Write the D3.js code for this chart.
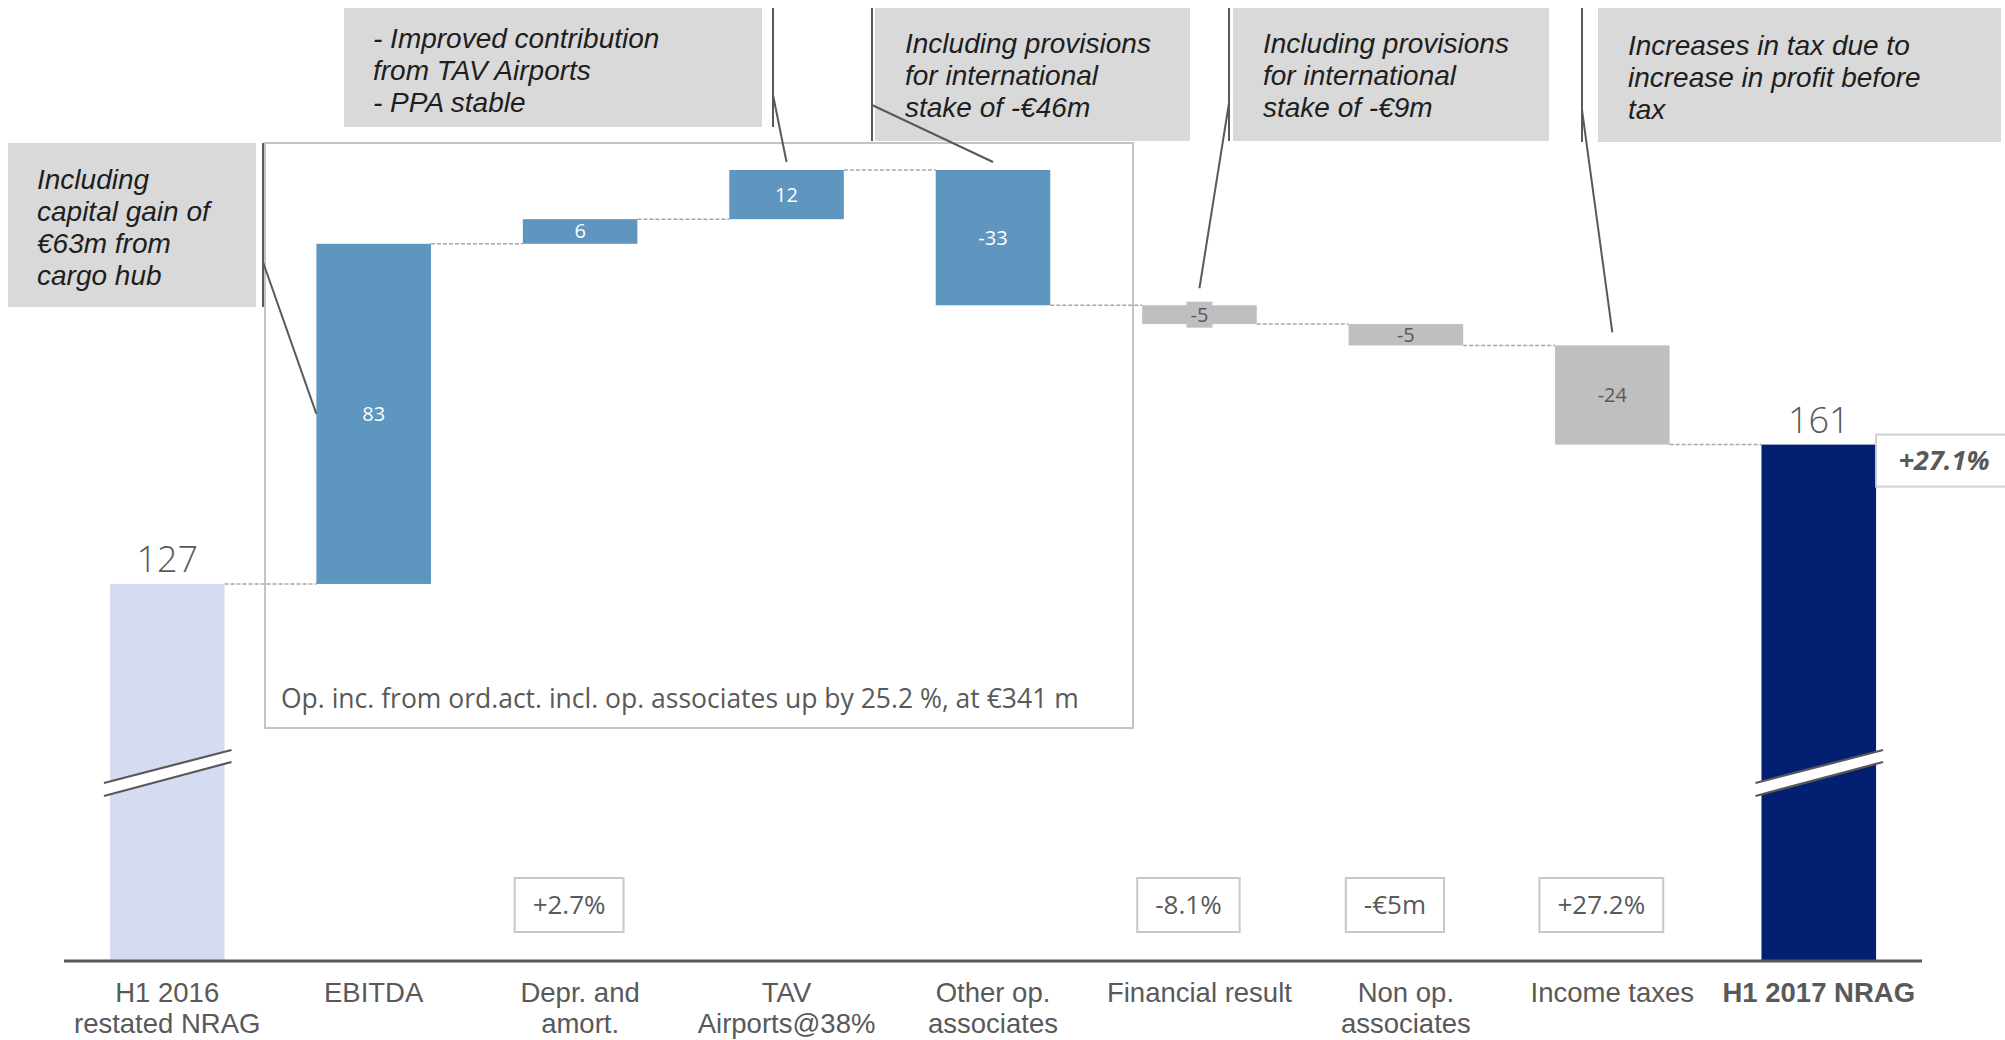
<!DOCTYPE html>
<html>
<head>
<meta charset="utf-8">
<script src="https://cdn.jsdelivr.net/npm/d3@7/dist/d3.min.js"></script>
<style>
  html, body { margin: 0; padding: 0; background: #ffffff; }
  svg { display: block; }
  text { font-family: "Open Sans", "Noto Sans", sans-serif; }
  text.note, text.cat { font-family: "Liberation Sans", Arial, sans-serif; }
</style>
</head>
<body>
<svg id="chart" width="2005" height="1040"></svg>
<script>
// ---------------- data ----------------
const categories = [
  "H1 2016|restated NRAG", "EBITDA", "Depr. and|amort.", "TAV|Airports@38%",
  "Other op.|associates", "Financial result", "Non op.|associates", "Income taxes", "H1 2017 NRAG"
];
const values = [127, 83, 6, 12, -33, -4.6, -5.2, -24.2, 161];
const kinds  = ["start", "op", "op", "op", "op", "nonop", "nonop", "nonop", "end"];
const changeLabels = [null, null, "+2.7%", null, null, "-8.1%", "-€5m", "+27.2%", null];
const totalChange = "+27.1%";
const boxNote = "Op. inc. from ord.act. incl. op. associates up by 25.2 %, at €341 m";
const noteTexts = [
  ["Including", "capital gain of", "€63m from", "cargo hub"],
  ["- Improved contribution", "from TAV Airports", "- PPA stable"],
  ["Including provisions", "for international", "stake of -€46m"],
  ["Including provisions", "for international", "stake of -€9m"],
  ["Increases in tax due to", "increase in profit before", "tax"]
];
const noteTargets = [1, 3, 4, 5, 7];

// ---------------- layout / style ----------------
const W = 2005, H = 1040;
const axisY = 961;
const colors = { start: "#d5dbf0", op: "#5e96c0", nonop: "#bfbfbf", end: "#031f71" };
const textGrey = "#595959";

const svg = d3.select("#chart");

const x = d3.scaleBand().domain(categories).range([64, 1922])
  .paddingInner(0.445).paddingOuter(0.2225);
const y = d3.scaleLinear().domain([35, 228]).range([axisY, 170]);

// compute waterfall
let run = 0;
const bars = categories.map((c, i) => {
  const v = values[i], k = kinds[i];
  let y0, y1;
  if (k === "start" || k === "end") { y0 = 35; y1 = v; run = v; }
  else { y0 = run; y1 = run + v; run = y1; }
  return { c, i, v, k, lo: Math.min(y0, y1), hi: Math.max(y0, y1), end: y1 };
});

// outline box for operating items
const ob = { x: 265, y: 143, w: 868, h: 585 };
svg.append("rect").attr("x", ob.x).attr("y", ob.y).attr("width", ob.w).attr("height", ob.h)
  .attr("fill", "none").attr("stroke", "#c4c4c4").attr("stroke-width", 2);
svg.append("text").attr("x", ob.x + 16).attr("y", 708)
  .attr("font-size", 26.5).attr("fill", textGrey).text(boxNote);

// connectors
for (let i = 0; i < bars.length - 1; i++) {
  const b = bars[i];
  svg.append("line")
    .attr("x1", x(b.c) + x.bandwidth()).attr("x2", x(bars[i + 1].c))
    .attr("y1", y(b.end)).attr("y2", y(b.end))
    .attr("stroke", "#a6a6a6").attr("stroke-width", 1.5).attr("stroke-dasharray", "4,2");
}

// bars
svg.selectAll("rect.bar").data(bars).join("rect").attr("class", "bar")
  .attr("x", d => x(d.c)).attr("width", x.bandwidth())
  .attr("y", d => y(d.hi)).attr("height", d => y(d.lo) - y(d.hi))
  .attr("fill", d => colors[d.k]);

// axis break marks on total bars
bars.filter(d => d.k === "start" || d.k === "end").forEach(d => {
  const xl = x(d.c) - 6, xr = x(d.c) + x.bandwidth() + 7;
  svg.append("path")
    .attr("d", `M${xl},783 L${xr},750 L${xr},762 L${xl},796 Z`)
    .attr("fill", "#ffffff");
  [[783, 750], [796, 762]].forEach(([a, b]) => {
    svg.append("line").attr("x1", xl).attr("y1", a).attr("x2", xr).attr("y2", b)
      .attr("stroke", textGrey).attr("stroke-width", 2.2);
  });
});

// value labels
bars.forEach(d => {
  const cx = x(d.c) + x.bandwidth() / 2;
  if (d.k === "start" || d.k === "end") {
    svg.append("text").attr("x", cx).attr("y", y(d.hi) - 12)
      .attr("text-anchor", "middle").attr("font-size", 36).attr("font-weight", 300)
      .attr("fill", textGrey).text(String(d.v));
  } else {
    const cy = (y(d.hi) + y(d.lo)) / 2;
    const lbl = String(Math.round(d.v));
    const h = y(d.lo) - y(d.hi);
    if (d.k === "nonop" && h < 20) {
      svg.append("rect").attr("x", cx - 13).attr("y", cy - 13).attr("width", 26).attr("height", 26)
        .attr("fill", colors.nonop);
    }
    svg.append("text").attr("x", cx).attr("y", cy).attr("dy", "0.35em")
      .attr("text-anchor", "middle").attr("font-size", 20)
      .attr("fill", d.k === "op" ? "#ffffff" : textGrey).text(lbl);
  }
});

// axis line
svg.append("line").attr("x1", 64).attr("x2", 1922).attr("y1", axisY).attr("y2", axisY)
  .attr("stroke", textGrey).attr("stroke-width", 3);

// category labels
categories.forEach((c, i) => {
  const cx = x(c) + x.bandwidth() / 2;
  c.split("|").forEach((l, j) => svg.append("text").attr("class", "cat")
    .attr("x", cx).attr("y", 1002 + j * 31)
    .attr("text-anchor", "middle").attr("font-size", 27.5).attr("fill", textGrey)
    .attr("font-weight", kinds[i] === "end" ? 700 : 400).text(l));
});

// change boxes under bars
changeLabels.forEach((lbl, i) => {
  if (!lbl) return;
  const cx = x(categories[i]) + x.bandwidth() / 2 - 11;
  const g = svg.append("g");
  const t = g.append("text").attr("x", cx).attr("y", 905).attr("dy", "0.35em")
    .attr("text-anchor", "middle").attr("font-size", 26).attr("fill", textGrey).text(lbl);
  const bw = t.node().getComputedTextLength() + 36;
  g.insert("rect", "text").attr("x", cx - bw / 2).attr("y", 878).attr("width", bw).attr("height", 54)
    .attr("fill", "#ffffff").attr("stroke", "#c8c8c8").attr("stroke-width", 2);
});

// total change box
{
  const endBar = bars[bars.length - 1];
  const bx = x(endBar.c) + x.bandwidth();
  const by = y(endBar.hi) - 10;
  svg.append("rect").attr("x", bx).attr("y", by).attr("width", W - bx + 2).attr("height", 52)
    .attr("fill", "#ffffff").attr("stroke", "#d0d0d0").attr("stroke-width", 2);
  svg.append("text").attr("x", bx + 68).attr("y", by + 26).attr("dy", "0.35em")
    .attr("text-anchor", "middle").attr("font-size", 27).attr("font-weight", 700)
    .attr("font-style", "italic").attr("fill", textGrey).text(totalChange);
}

// annotation callouts
const noteLayout = [
  { x: 8,    y: 143, w: 248, h: 164, tx: 37,   ty: 179, lx: 263,  ly0: 143, ly1: 307, sy: 262, side: "left" },
  { x: 344,  y: 8,   w: 418, h: 119, tx: 373,  ty: 38,  lx: 773,  ly0: 8,   ly1: 127, sy: 95,  side: "top" },
  { x: 875,  y: 8,   w: 315, h: 133, tx: 905,  ty: 43,  lx: 872,  ly0: 8,   ly1: 141, sy: 105, side: "top" },
  { x: 1233, y: 8,   w: 316, h: 133, tx: 1263, ty: 43,  lx: 1229, ly0: 8,   ly1: 141, sy: 103, side: "top" },
  { x: 1598, y: 8,   w: 403, h: 134, tx: 1628, ty: 45,  lx: 1582, ly0: 8,   ly1: 142, sy: 110, side: "top" }
];
noteTexts.forEach((lines, k) => {
  const L = noteLayout[k];
  const b = bars[noteTargets[k]];
  svg.append("rect").attr("x", L.x).attr("y", L.y).attr("width", L.w).attr("height", L.h)
    .attr("fill", "#d9d9d9");
  lines.forEach((l, j) => svg.append("text").attr("class", "note")
    .attr("font-size", 28).attr("font-style", "italic").attr("fill", "#1e1e1e")
    .attr("x", L.tx).attr("y", L.ty + j * 32).attr("dy", "0.36em").text(l));
  svg.append("line").attr("x1", L.lx).attr("x2", L.lx).attr("y1", L.ly0).attr("y2", L.ly1)
    .attr("stroke", textGrey).attr("stroke-width", 2);
  let tx, ty;
  if (L.side === "left") { tx = x(b.c); ty = (y(b.hi) + y(b.lo)) / 2; }
  else {
    tx = x(b.c) + x.bandwidth() / 2;
    const extra = (y(b.lo) - y(b.hi)) < 20 ? 17 : (b.k === "nonop" ? 13 : 8);
    ty = y(b.hi) - extra;
  }
  svg.append("line").attr("x1", L.lx).attr("y1", L.sy).attr("x2", tx).attr("y2", ty)
    .attr("stroke", textGrey).attr("stroke-width", 2);
});
</script>
</body>
</html>
